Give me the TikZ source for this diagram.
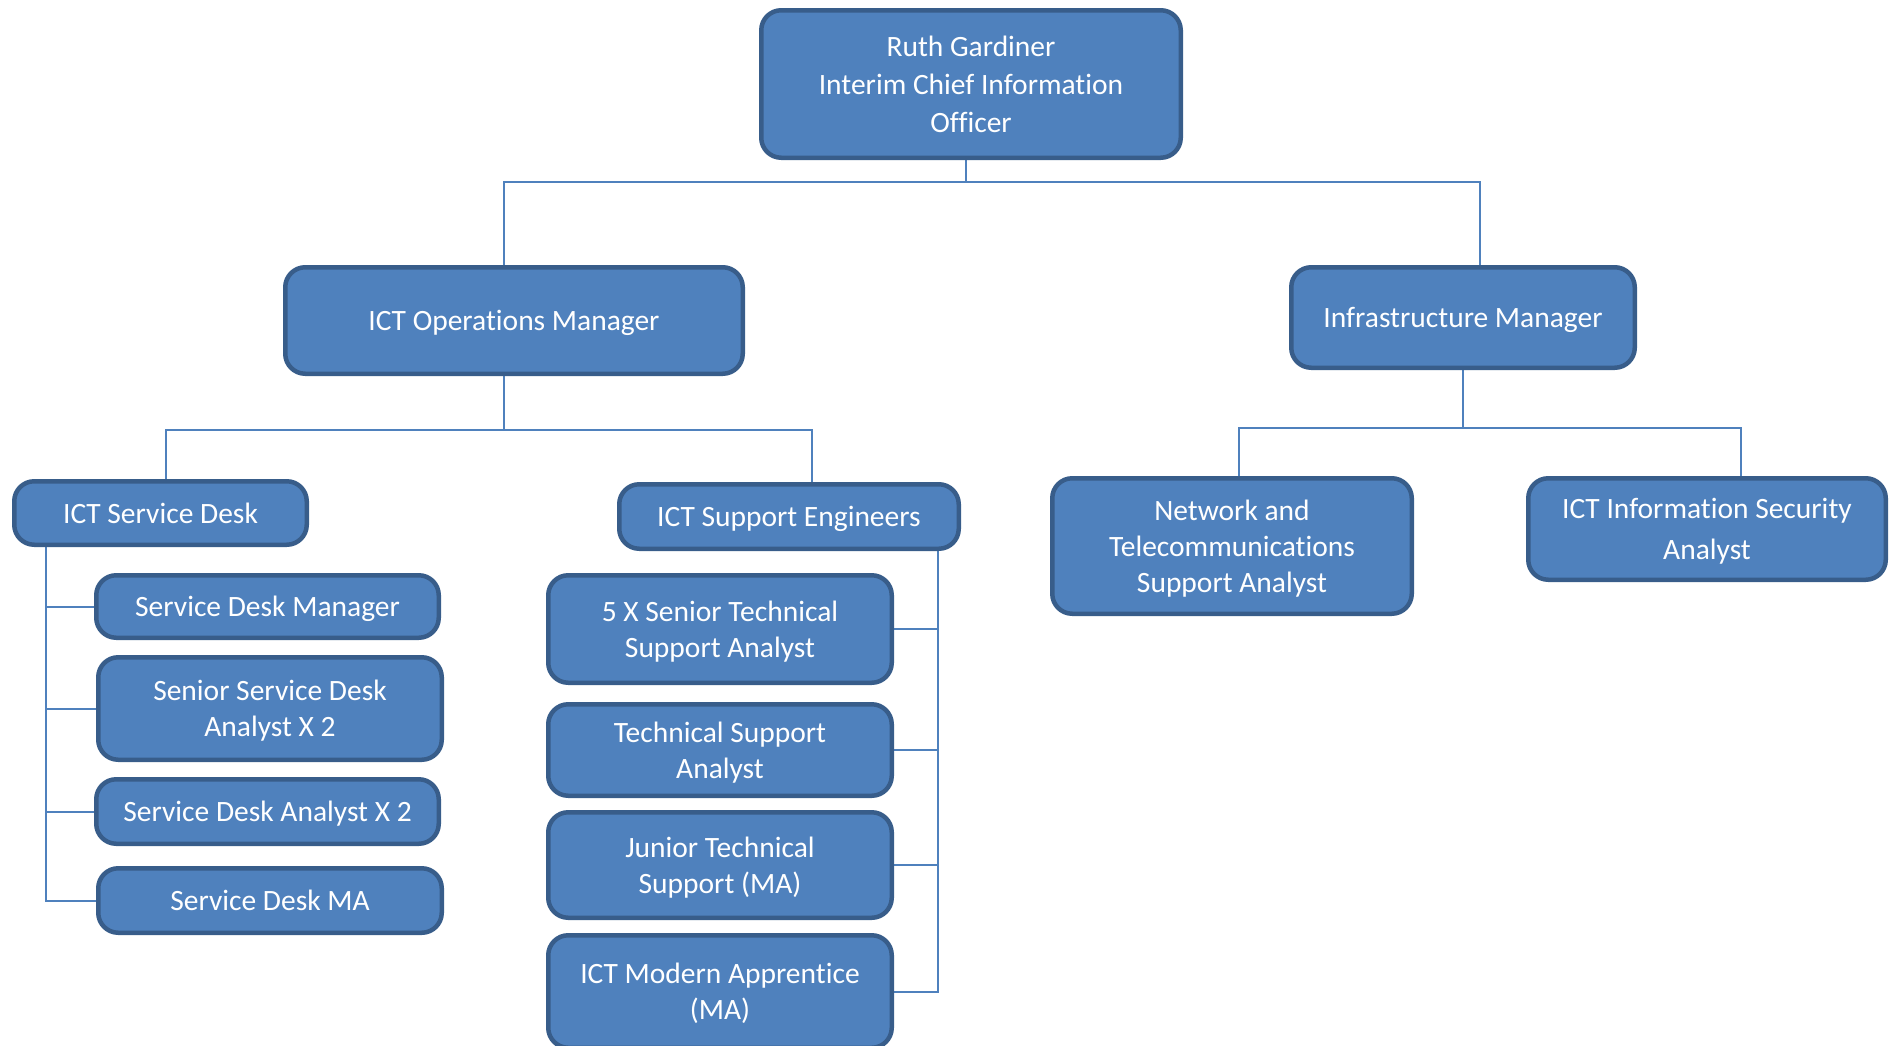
\documentclass[tikz,border=0pt]{standalone}
\usepackage{fontspec}
\setmainfont{Carlito}[Ligatures=NoCommon]
\usetikzlibrary{backgrounds}
\definecolor{boxfill}{HTML}{4F81BD}
\definecolor{boxline}{HTML}{385D8A}
\begin{document}
\begin{tikzpicture}[x=1pt,y=-1pt,
  box/.style={draw=boxline, fill=boxfill, line width=4.5pt, rounded corners=20pt,
    text=white, align=center, inner sep=0pt, text depth=-3pt, font=\fontsize{29.5}{36}\selectfont},
  conn/.style={draw=boxfill, line width=2pt}]
\useasboundingbox (0,0) rectangle (1890,1045);
\clip (0,0) rectangle (1890,1045);
% level 0
\node[box, minimum width=419.5pt, minimum height=147.5pt, font=\fontsize{29.5}{38}\selectfont] (cio) at (971,84) {Ruth Gardiner\\Interim Chief Information\\Officer};
% level 1
\node[box, minimum width=457.5pt, minimum height=106.5pt] (ops) at (514,320.5) {ICT Operations Manager};
\node[box, minimum width=343.5pt, minimum height=100.5pt] (infra) at (1463,317.5) {Infrastructure Manager};
% level 2
\node[box, minimum width=292.5pt, minimum height=63.5pt] (sd) at (160.5,513) {ICT Service Desk};
\node[box, minimum width=339.5pt, minimum height=64.5pt] (se) at (789,516.5) {ICT Support Engineers};
\node[box, minimum width=359.5pt, minimum height=135.5pt] (net) at (1232,546) {Network and\\Telecommunications\\Support Analyst};
\node[box, minimum width=357.5pt, minimum height=101.5pt, font=\fontsize{29.5}{41}\selectfont] (sec) at (1707,529) {ICT Information Security\\Analyst};
% service desk team
\node[box, minimum width=342.5pt, minimum height=62.5pt] (sdm) at (267.5,606.5) {Service Desk Manager};
\node[box, minimum width=343.5pt, minimum height=102.5pt] (ssda) at (270,708.5) {Senior Service Desk\\Analyst X 2};
\node[box, minimum width=342.5pt, minimum height=64.5pt] (sda) at (267.5,811.5) {Service Desk Analyst X 2};
\node[box, minimum width=343.5pt, minimum height=64.5pt] (sdma) at (270,900.5) {Service Desk MA};
% support engineers team
\node[box, minimum width=343.5pt, minimum height=107.5pt] (sts) at (720,629) {5 X Senior Technical\\Support Analyst};
\node[box, minimum width=343.5pt, minimum height=91.5pt] (tsa) at (720,750) {Technical Support\\Analyst};
\node[box, minimum width=343.5pt, minimum height=105.5pt] (jts) at (720,865) {Junior Technical\\Support (MA)};
\node[box, minimum width=343.5pt, minimum height=112.5pt] (ima) at (720,991.5) {ICT Modern Apprentice\\(MA)};
% connectors
\begin{scope}[on background layer]
\draw[conn] ([xshift=-5pt]cio.south) -- ++(0,22) coordinate (b1);
\draw[conn] ([xshift=-10pt]ops.north) |- (b1) -| ([xshift=17pt]infra.north);
\draw[conn] ([xshift=-10pt]ops.south) -- ++(0,54) coordinate (b2);
\draw[conn] ([xshift=5.5pt]sd.north) |- (b2) -| ([xshift=23pt]se.north);
\draw[conn] (infra.south) -- ++(0,58) coordinate (b3);
\draw[conn] ([xshift=7pt]net.north) |- (b3) -| ([xshift=34pt]sec.north);
\coordinate (r1) at ([xshift=34pt]sd.south west);
\draw[conn] (sdm.west) -| (r1);
\draw[conn] (ssda.west) -| (r1);
\draw[conn] (sda.west) -| (r1);
\draw[conn] (sdma.west) -| (r1);
\coordinate (r2) at ([xshift=-23pt]se.south east);
\draw[conn] (sts.east) -| (r2);
\draw[conn] (tsa.east) -| (r2);
\draw[conn] (jts.east) -| (r2);
\draw[conn] (ima.east) -| (r2);
\end{scope}
\end{tikzpicture}
\end{document}
